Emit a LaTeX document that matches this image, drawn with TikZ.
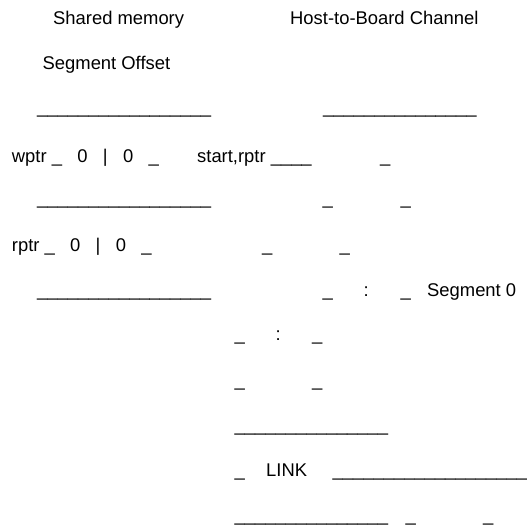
\documentclass[tikz,border=0pt]{standalone}
\usepackage{fontspec}
\setmainfont{Liberation Sans}
\usepackage{tikz}
\newcommand{\unders}[1]{\foreach \u in {1,...,#1}{\_}}
\newcommand{\gap}{\ \ \ }

\begin{document}
\begin{tikzpicture}[x=1pt,y=-1pt]
        \tikzstyle{tnode} = [inner sep = 0pt, anchor = base west, font = \fontsize{18.4}{22}\selectfont]
        \useasboundingbox (0,0) rectangle (527,526);

        % titles
        \node[tnode] (shm) at (53,24.5) {Shared memory};
        \node[tnode] (h2b) at (290,24.5) {Host-to-Board Channel};
        \node[tnode] (segoff) at (42.5,69.7) {Segment Offset};

        % shared memory block
        \node[tnode] (mtop) at (37,113.5) {\unders{17}};
        \node[tnode] (wptr) at (11.7,162.5) {wptr \_\gap 0\gap |\gap 0\gap \_};
        \node[tnode] (mmid) at (37,204.5) {\unders{17}};
        \node[tnode] (rptr) at (11.7,251.5) {rptr \_\gap 0\gap |\gap 0\gap \_};
        \node[tnode] (mbot) at (37,296.5) {\unders{17}};

        % channel, segment 0
        \node[tnode] (ctop) at (323,113.5) {\unders{15}};
        \node[tnode] (start) at (197,162.5) {start,rptr \unders{4}};
        \node[tnode] (s1r) at (380,162.5) {\_};
        \node[tnode] (s2l) at (322.5,204.5) {\_};
        \node[tnode] (s2r) at (400.5,204.5) {\_};
        \node[tnode] (s3l) at (262,251.5) {\_};
        \node[tnode] (s3r) at (339.5,251.5) {\_};
        \node[tnode] (s4l) at (322.5,296.5) {\_};
        \node[tnode] (s4c) at (363.5,296.5) {:};
        \node[tnode] (s4r) at (400.5,296.5) {\_};
        \node[tnode] (seg0) at (427,296.5) {Segment 0};
        \node[tnode] (s5l) at (234.5,340.9) {\_};
        \node[tnode] (s5c) at (275.5,340.9) {:};
        \node[tnode] (s5r) at (312,340.9) {\_};
        \node[tnode] (s6l) at (234.5,386.1) {\_};
        \node[tnode] (s6r) at (312,386.1) {\_};
        \node[tnode] (sbot) at (234.5,431.3) {\unders{15}};

        % link
        \node[tnode] (l1) at (234.5,476.5) {\_};
        \node[tnode] (link) at (266,476.5) {LINK};
        \node[tnode] (lrun) at (332.5,476.5) {\unders{19}};
        \node[tnode] (lbot) at (234.5,521.7) {\unders{15}};
        \node[tnode] (l2) at (405.5,521.7) {\_};
        \node[tnode] (l3) at (483,521.7) {\_};
      \end{tikzpicture}
\end{document}
